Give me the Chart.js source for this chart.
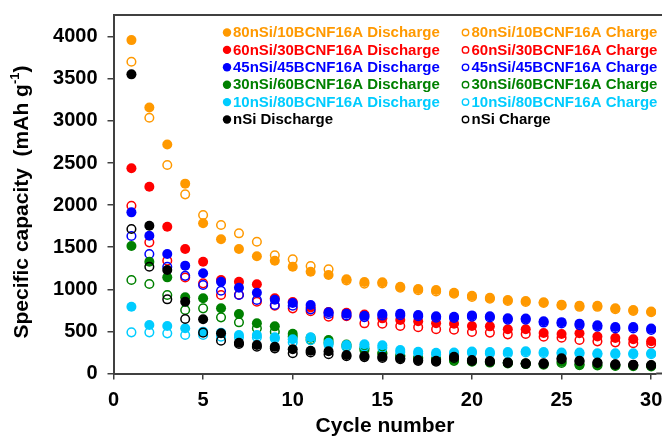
<!DOCTYPE html>
<html>
<head>
<meta charset="utf-8">
<script src="https://cdn.jsdelivr.net/npm/chart.js@4.4.1/dist/chart.umd.min.js"></script>
<style>
  html, body { margin: 0; padding: 0; background: #fff; }
  #wrap { width: 662px; height: 437px; position: relative; }
</style>
</head>
<body>
<div id="wrap"><canvas id="capChart"></canvas></div>
<script>
const cycles = Array.from({ length: 30 }, (_, i) => i + 1);

const xTicks = [0, 5, 10, 15, 20, 25, 30];
const yTicks = [0, 500, 1000, 1500, 2000, 2500, 3000, 3500, 4000];

const names = ["80nSi/10BCNF16A", "60nSi/30BCNF16A", "45nSi/45BCNF16A", "30nSi/60BCNF16A", "10nSi/80BCNF16A", "nSi"];
const colors = ["#ff9900", "#ff0000", "#0000ff", "#008000", "#00ccff", "#000000"];

const si80Discharge = [3960, 3160, 2720, 2255, 1784, 1594, 1479, 1393, 1340, 1268, 1209, 1170, 1119, 1087, 1083, 1031, 1004, 992, 960, 924, 900, 873, 861, 847, 818, 806, 804, 774, 754, 737];
const si80Charge = [3703, 3038, 2476, 2128, 1882, 1764, 1665, 1565, 1405, 1356, 1277, 1237, 1105, 1068, 1070, 1018, 990, 975, 948, 910, 888, 862, 850, 838, 808, 792, 792, 764, 744, 728];
const si60Discharge = [2437, 2219, 1743, 1479, 1328, 1110, 1090, 1059, 893, 850, 785, 731, 721, 700, 655, 635, 620, 596, 590, 564, 560, 525, 525, 480, 470, 477, 440, 422, 406, 382];
const si60Charge = [1993, 1558, 1340, 1140, 1071, 932, 935, 853, 805, 774, 740, 675, 680, 596, 591, 564, 550, 527, 520, 493, 486, 465, 470, 437, 424, 398, 382, 370, 359, 353];
const si45Discharge = [1914, 1637, 1419, 1281, 1190, 1090, 1019, 960, 875, 838, 814, 728, 711, 685, 707, 711, 695, 681, 675, 690, 680, 655, 653, 620, 610, 592, 572, 552, 552, 533];
const si45Charge = [1633, 1419, 1268, 1160, 1051, 983, 932, 873, 814, 805, 762, 708, 690, 670, 688, 692, 680, 662, 660, 675, 665, 640, 640, 605, 595, 575, 555, 535, 535, 518];
const si30Discharge = [1514, 1328, 1142, 905, 893, 774, 707, 596, 560, 472, 425, 398, 345, 300, 245, 215, 190, 175, 162, 150, 140, 130, 120, 113, 140, 109, 100, 95, 95, 93];
const si30Charge = [1110, 1063, 932, 754, 774, 667, 608, 537, 497, 440, 400, 365, 320, 280, 235, 205, 180, 165, 150, 140, 130, 120, 112, 105, 125, 100, 95, 90, 88, 85];
const si10Discharge = [793, 576, 564, 537, 497, 485, 457, 457, 430, 406, 430, 366, 338, 347, 335, 279, 259, 247, 250, 260, 255, 255, 265, 255, 250, 250, 240, 240, 240, 240];
const si10Charge = [489, 489, 477, 457, 457, 437, 430, 430, 415, 370, 395, 340, 315, 320, 305, 255, 237, 228, 235, 245, 238, 238, 250, 240, 238, 238, 228, 228, 228, 228];
const nSiDischarge = [3553, 1755, 1229, 853, 644, 477, 366, 338, 318, 287, 271, 265, 220, 208, 200, 181, 160, 150, 200, 160, 148, 132, 121, 121, 181, 152, 130, 110, 105, 101];
const nSiCharge = [1716, 1268, 881, 647, 485, 390, 350, 318, 299, 240, 250, 228, 205, 195, 185, 170, 150, 140, 185, 150, 140, 125, 115, 115, 170, 145, 125, 105, 100, 95];

const dischargeSets = [si80Discharge, si60Discharge, si45Discharge, si30Discharge, si10Discharge, nSiDischarge];
const chargeSets = [si80Charge, si60Charge, si45Charge, si30Charge, si10Charge, nSiCharge];

const FONT = "'Liberation Sans', Arial, sans-serif";
const AXIS_COLOR = "#404040";

// excel order: discharge, charge per material, later series on top
const datasets = [];
names.forEach((n, i) => {
  datasets.push({
    label: n + " Discharge",
    data: dischargeSets[i].map((v, k) => ({ x: cycles[k], y: v })),
    backgroundColor: colors[i],
    borderColor: colors[i],
    pointRadius: 5,
    pointBorderWidth: 0,
    filled: true
  });
  datasets.push({
    label: n + " Charge",
    data: chargeSets[i].map((v, k) => ({ x: cycles[k], y: v })),
    backgroundColor: "rgba(255,255,255,0)",
    borderColor: colors[i],
    pointRadius: 4.3,
    pointBorderWidth: 1.5,
    filled: false
  });
});
datasets.forEach((d, i) => { d.order = datasets.length - i; d.showLine = false; });

const framePlugin = {
  id: "frame",
  afterDraw(chart) {
    const { ctx, chartArea } = chart;
    ctx.save();
    ctx.strokeStyle = AXIS_COLOR;
    ctx.lineWidth = 2;
    ctx.beginPath();
    ctx.moveTo(chartArea.left, chartArea.top);
    ctx.lineTo(chart.width, chartArea.top);
    ctx.stroke();
    // x axis runs on to the edge of the picture
    ctx.beginPath();
    ctx.moveTo(chartArea.right, chartArea.bottom);
    ctx.lineTo(chart.width, chartArea.bottom);
    ctx.stroke();

    // axis titles
    ctx.fillStyle = "#000";
    ctx.font = "bold 21px " + FONT;
    ctx.textAlign = "center";
    ctx.textBaseline = "middle";
    ctx.fillText("Cycle number", 385, 426);

    ctx.translate(22, 202);
    ctx.rotate(-Math.PI / 2);
    const main = "Specific capacity  (mAh g";
    const sup = "-1";
    const tail = ")";
    ctx.font = "bold 21px " + FONT;
    const wMain = ctx.measureText(main).width;
    const wTail = ctx.measureText(tail).width;
    ctx.font = "bold 13px " + FONT;
    const wSup = ctx.measureText(sup).width;
    let x = -(wMain + wSup + wTail) / 2;
    ctx.textAlign = "left";
    ctx.font = "bold 21px " + FONT;
    ctx.fillText(main, x, 0);
    x += wMain;
    ctx.font = "bold 13px " + FONT;
    ctx.fillText(sup, x, -7);
    x += wSup;
    ctx.font = "bold 21px " + FONT;
    ctx.fillText(tail, x, 0);
    ctx.restore();
  }
};

const legendPlugin = {
  id: "twoColLegend",
  afterDraw(chart) {
    const { ctx } = chart;
    ctx.save();
    ctx.font = "bold 15px " + FONT;
    ctx.textBaseline = "middle";
    ctx.textAlign = "left";
    chart.data.datasets.forEach((d, i) => {
      const row = Math.floor(i / 2);
      const col = i % 2;
      const mx = col === 0 ? 227 : 465.5;
      const y = 32.5 + row * 17.4;
      ctx.beginPath();
      if (d.filled) {
        ctx.fillStyle = d.borderColor;
        ctx.arc(mx, y, 4.2, 0, Math.PI * 2);
        ctx.fill();
      } else {
        ctx.strokeStyle = d.borderColor;
        ctx.lineWidth = 1.4;
        ctx.arc(mx, y, 3.2, 0, Math.PI * 2);
        ctx.stroke();
      }
      ctx.fillStyle = d.borderColor;
      ctx.fillText(d.label, mx + 6, y + 0.5);
    });
    ctx.restore();
  }
};

const canvas = document.getElementById("capChart");
const ctx = canvas.getContext("2d");

new Chart(ctx, {
  type: "scatter",
  data: { datasets: datasets },
  options: {
    responsive: true,
    maintainAspectRatio: false,
    animation: false,
    layout: { padding: { top: 15, right: 0, left: 0, bottom: 0 } },
    plugins: {
      legend: { display: false },
      tooltip: { enabled: false }
    },
    scales: {
      x: {
        type: "linear",
        min: 0,
        max: 30.28,
        afterBuildTicks: (scale) => { scale.ticks = xTicks.map(v => ({ value: v })); },
        afterFit: (scale) => {
          scale.height = 63.5;
          scale.paddingLeft = 0;
          scale.paddingRight = 0;
        },
        ticks: {
          color: "#000",
          font: { family: FONT, size: 20, weight: "bold" },
          padding: 9,
          maxRotation: 0,
          callback: (v) => String(v)
        },
        grid: { drawOnChartArea: false, drawTicks: true, tickLength: 6, color: AXIS_COLOR, lineWidth: 1.5 },
        border: { display: true, color: AXIS_COLOR, width: 2 }
      },
      y: {
        type: "linear",
        min: 0,
        max: 4258,
        afterBuildTicks: (scale) => { scale.ticks = yTicks.map(v => ({ value: v })); },
        afterFit: (scale) => {
          scale.width = 113.5;
          scale.paddingTop = 0;
          scale.paddingBottom = 0;
        },
        ticks: {
          color: "#000",
          font: { family: FONT, size: 20, weight: "bold" },
          padding: 10,
          callback: (v) => String(v)
        },
        grid: { drawOnChartArea: false, drawTicks: true, tickLength: 6, color: AXIS_COLOR, lineWidth: 1.5 },
        border: { display: true, color: AXIS_COLOR, width: 2 }
      }
    }
  },
  plugins: [framePlugin, legendPlugin]
});
</script>
</body>
</html>
